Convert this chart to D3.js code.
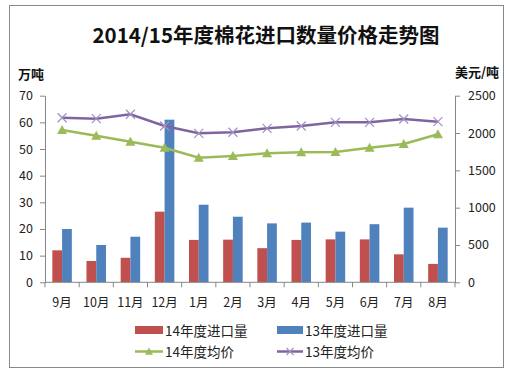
<!DOCTYPE html>
<html><head><meta charset="utf-8">
<script src="https://cdn.jsdelivr.net/npm/d3@7"></script>
<style>body{margin:0;background:#fff}svg{display:block}text{font-family:"Noto Sans CJK SC","Noto Sans",sans-serif}</style>
</head><body><svg id="c" width="511" height="374"></svg>
<script>
const months = ["9月","10月","11月","12月","1月","2月","3月","4月","5月","6月","7月","8月"];
const import14 = [12.0,8.0,9.2,26.5,15.9,16.0,12.8,15.9,16.1,16.1,10.5,6.9];
const import13 = [20.0,14.0,17.1,61.0,29.1,24.6,22.1,22.4,19.0,21.8,28.0,20.5];
const price14 = [2040,1964,1884,1803,1669,1692,1728,1742,1746,1803,1853,1983];
const price13 = [2205,2192,2251,2094,1996,2010,2063,2094,2143,2143,2188,2152];
const leftTicks = [0,10,20,30,40,50,60,70];
const rightTicks = [0,500,1000,1500,2000,2500];

const svg = d3.select("#c");
const L=45,R=455,T=95.7,B=282.3;
const C={red:"#C0504D",blue:"#4F81BD",green:"#9BBB59",purple:"#8064A2",axis:"#868686",text:"#222"};

svg.append("rect").attr("x",9.5).attr("y",5.5).attr("width",494).attr("height",362).attr("fill","#fff").attr("stroke","#888");

svg.append("text").attr("x",266).attr("y",43).attr("text-anchor","middle").attr("font-size",20.5).attr("font-weight","bold").attr("fill","#111").text("2014/15年度棉花进口数量价格走势图");
svg.append("text").attr("x",18).attr("y",79).attr("font-size",13).attr("font-weight","bold").attr("fill","#111").text("万吨");
svg.append("text").attr("x",499).attr("y",77).attr("text-anchor","end").attr("font-size",13).attr("font-weight","bold").attr("fill","#111").text("美元/吨");

const x = d3.scaleBand().domain(months).range([L,R]).paddingInner(0).paddingOuter(0);
const yL = d3.scaleLinear().domain([0,70]).range([B,T]);
const yR = d3.scaleLinear().domain([0,2500]).range([B,T]);
const bw = x.bandwidth()/3.5;

function styleAxis(g){g.selectAll("path,line").attr("stroke",C.axis);g.selectAll("text").attr("fill",C.text).attr("font-size",12.5).attr("font-family","\"Liberation Sans\",sans-serif");}

svg.append("g").attr("transform",`translate(${L},0)`).call(d3.axisLeft(yL).tickValues(leftTicks).tickSize(5).tickSizeOuter(0).tickPadding(7).tickFormat(d3.format("d"))).call(styleAxis);
svg.append("g").attr("transform",`translate(${R},0)`).call(d3.axisRight(yR).tickValues(rightTicks).tickSize(5).tickSizeOuter(0).tickPadding(8).tickFormat(d3.format("d"))).call(styleAxis);

// bars
const mid = m => x(m)+x.bandwidth()/2;
svg.append("g").selectAll("rect").data(months).join("rect")
 .attr("x",m=>mid(m)-bw).attr("width",bw).attr("y",(m,i)=>yL(import14[i])).attr("height",(m,i)=>B-yL(import14[i])).attr("fill",C.red);
svg.append("g").selectAll("rect").data(months).join("rect")
 .attr("x",m=>mid(m)).attr("width",bw).attr("y",(m,i)=>yL(import13[i])).attr("height",(m,i)=>B-yL(import13[i])).attr("fill",C.blue);

// x axis
const xg = svg.append("g").attr("transform",`translate(0,${B})`);
xg.append("line").attr("x1",L).attr("x2",R).attr("stroke",C.axis);
xg.selectAll("line.t").data(d3.range(13)).join("line").attr("class","t").attr("x1",i=>L+i*x.bandwidth()).attr("x2",i=>L+i*x.bandwidth()).attr("y1",0).attr("y2",5).attr("stroke",C.axis);
xg.selectAll("text").data(months).join("text").attr("x",m=>mid(m)).attr("y",25).attr("text-anchor","middle").attr("font-size",12.5).attr("fill",C.text).text(d=>d);

// lines
const line = d3.line().x((d,i)=>mid(months[i])).y(d=>yR(d));
svg.append("path").datum(price13).attr("d",line).attr("fill","none").attr("stroke",C.purple).attr("stroke-width",2.5);
svg.append("path").datum(price14).attr("d",line).attr("fill","none").attr("stroke",C.green).attr("stroke-width",2.5);
const cross = (g,cx,cy,s)=>g.append("path").attr("d",`M${cx-s},${cy-s}L${cx+s},${cy+s}M${cx-s},${cy+s}L${cx+s},${cy-s}`).attr("stroke","#A391C0").attr("stroke-width",1.2);
const tri = (g,cx,cy,s)=>g.append("path").attr("d",`M${cx},${cy-s}L${cx+s},${cy+s*0.8}L${cx-s},${cy+s*0.8}Z`).attr("fill",C.green);
const mk = svg.append("g");
price13.forEach((v,i)=>cross(mk,mid(months[i]),yR(v),4.5));
price14.forEach((v,i)=>tri(mk,mid(months[i]),yR(v),5));

// legend
const lg = svg.append("g");
lg.append("rect").attr("x",135).attr("y",326).attr("width",28).attr("height",8).attr("fill",C.red);
lg.append("text").attr("x",165).attr("y",335.5).attr("font-size",13.5).attr("fill",C.text).text("14年度进口量");
lg.append("rect").attr("x",277).attr("y",326).attr("width",26).attr("height",8).attr("fill",C.blue);
lg.append("text").attr("x",305).attr("y",335.5).attr("font-size",13.5).attr("fill",C.text).text("13年度进口量");
lg.append("line").attr("x1",135).attr("x2",163).attr("y1",351.5).attr("y2",351.5).attr("stroke",C.green).attr("stroke-width",2.5);
tri(lg,149,351.5,4);
lg.append("text").attr("x",165).attr("y",356.5).attr("font-size",13.5).attr("fill",C.text).text("14年度均价");
lg.append("line").attr("x1",277).attr("x2",303).attr("y1",351.5).attr("y2",351.5).attr("stroke",C.purple).attr("stroke-width",2.5);
cross(lg,290,351.5,3.5);
lg.append("text").attr("x",305).attr("y",356.5).attr("font-size",13.5).attr("fill",C.text).text("13年度均价");
</script></body></html>
